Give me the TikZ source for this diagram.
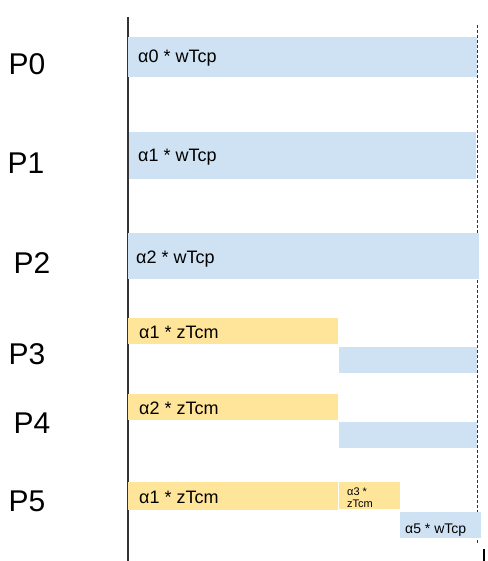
\documentclass[tikz,border=0pt]{standalone}
\usepackage{fontspec}
\setmainfont{Liberation Sans}
\definecolor{barblue}{HTML}{CFE2F3}
\definecolor{baryellow}{HTML}{FFE599}
\begin{document}
\begin{tikzpicture}[x=1pt,y=-1pt,
  plabel/.style={anchor=center,inner sep=0pt,font=\fontsize{30}{36}\selectfont},
  cpbar/.style={rectangle,fill=barblue,draw=none,anchor=north west,inner sep=0pt},
  cmbar/.style={rectangle,fill=baryellow,draw=none,anchor=north west,inner sep=0pt},
  bartext/.style={anchor=base west,inner sep=0pt,font=\fontsize{18}{21}\selectfont},
  smalltext/.style={anchor=base west,inner sep=0pt,font=\fontsize{11}{13}\selectfont},
  midtext/.style={anchor=base west,inner sep=0pt,font=\fontsize{14}{16}\selectfont}]
\useasboundingbox[fill=white] (0,0) rectangle (487,561);
% axis lines
\coordinate (ltop) at (128,17);
\coordinate (lbot) at (128,561);
\coordinate (rtop) at (477,25);
\coordinate (rbot) at (477,543);
\coordinate (ttop) at (484,549);
\coordinate (tbot) at (484,561);
\draw[line width=1.1pt,black!80] (ltop) -- (lbot);
\draw[line width=0.8pt,black!80,dash pattern=on 3pt off 2pt] (rtop) -- (rbot);
\draw[line width=2pt,black] (ttop) -- (tbot);
% labels
\node[plabel] (p0) at (27,64) {P0};
\node[plabel] (p1) at (26,163) {P1};
\node[plabel] (p2) at (32,263) {P2};
\node[plabel] (p3) at (27,354) {P3};
\node[plabel] (p4) at (32,423) {P4};
\node[plabel] (p5) at (27,501) {P5};
% P0
\node[cpbar,minimum width=349pt,minimum height=40pt] (b0) at (128,37) {};
\node[bartext] (t0) at (138,63) {α0 * wTcp};
% P1
\node[cpbar,minimum width=347pt,minimum height=47pt] (b1) at (129,132) {};
\node[bartext] (t1) at (138,162) {α1 * wTcp};
% P2
\node[cpbar,minimum width=351pt,minimum height=46pt] (b2) at (128,233) {};
\node[bartext] (t2) at (136,263) {α2 * wTcp};
% P3
\node[cmbar,minimum width=210pt,minimum height=26pt] (y3) at (128,318) {};
\node[bartext] (t3) at (139,338) {α1 * zTcm};
\node[cpbar,minimum width=138pt,minimum height=26pt] (c3) at (339,347) {};
% P4
\node[cmbar,minimum width=210pt,minimum height=26pt] (y4) at (128,394) {};
\node[bartext] (t4) at (139,414) {α2 * zTcm};
\node[cpbar,minimum width=138pt,minimum height=26pt] (c4) at (339,422) {};
% P5
\node[cmbar,minimum width=210pt,minimum height=28pt] (y5) at (128,482) {};
\node[bartext] (t5) at (139,503) {α1 * zTcm};
\node[cmbar,minimum width=61.4pt,minimum height=27pt] (y5b) at (338.6,482) {};
\node[smalltext] (t5a) at (347,495) {α3 *};
\node[smalltext] (t5b) at (347,507) {zTcm};
\node[cpbar,minimum width=81pt,minimum height=26pt] (c5) at (400,512) {};
\node[midtext] (t5c) at (405,533) {α5 * wTcp};
\end{tikzpicture}
\end{document}
